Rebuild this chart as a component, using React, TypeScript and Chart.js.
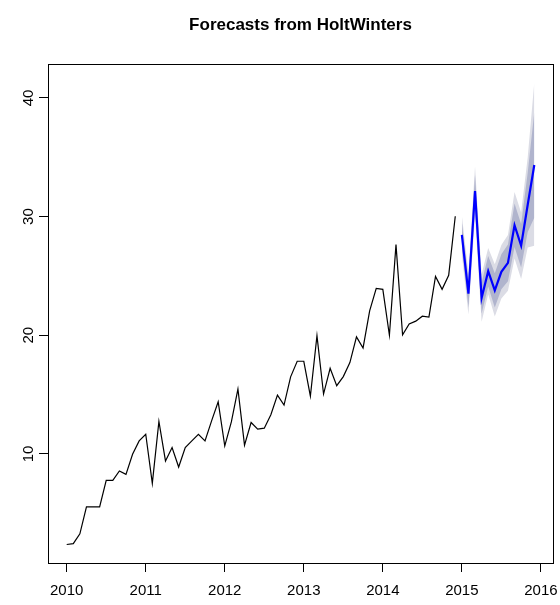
import React, { useEffect, useRef } from "react";
import { Chart, registerables } from "chart.js";

Chart.register(...registerables);

// Monthly series, January 2010 to December 2014
const START_YEAR = 2010;
const MONTHS_PER_YEAR = 12;

const OBSERVED = [
  2.37, 2.45, 3.27, 5.55, 5.55, 5.55, 7.78, 7.78, 8.57, 8.28, 9.97, 11.1,
  11.66, 7.52, 12.74, 9.41, 10.54, 8.9, 10.54, 11.1, 11.66, 11.1, 12.79, 14.4,
  10.68, 12.7, 15.47, 10.74, 12.65, 12.09, 12.17, 13.3, 14.96, 14.12, 16.5, 17.81,
  17.81, 14.87, 19.97, 15.05, 17.22, 15.75, 16.52, 17.7, 19.87, 18.93, 22.06, 23.95,
  23.87, 20.0, 27.64, 20.03, 20.96, 21.19, 21.61, 21.53, 24.96, 23.87, 25.05, 30.03,
];

// HoltWinters forecast for 2015 with 80% and 95% prediction intervals
const FORECAST_MEAN = [28.45, 23.5, 32.15, 23.14, 25.4, 23.78, 25.35, 26.1, 29.27, 27.55, 31.0, 34.35];
const LOWER_80 = [27.37, 22.36, 30.78, 21.83, 24.12, 22.34, 23.88, 24.56, 27.44, 25.72, 28.7, 29.9];
const UPPER_80 = [29.53, 24.64, 33.52, 24.45, 26.68, 25.22, 26.82, 27.64, 31.1, 29.38, 33.7, 38.8];
const LOWER_95 = [26.8, 21.75, 30.05, 21.14, 23.45, 21.58, 23.1, 23.75, 26.47, 24.75, 27.4, 27.55];
const UPPER_95 = [30.1, 25.25, 34.25, 25.14, 27.35, 25.98, 27.6, 28.45, 32.07, 30.35, 35.0, 41.3];

const X_TICKS = [2010, 2011, 2012, 2013, 2014, 2015, 2016];
const Y_TICKS = [10, 20, 30, 40];
const TITLE = "Forecasts from HoltWinters";

const FONT = "'Liberation Sans', Arial, Helvetica, sans-serif";

const toPoints = (values: number[], offset: number) =>
  values.map((y, i) => ({ x: START_YEAR + (offset + i) / MONTHS_PER_YEAR, y }));

// Range padded by 4% like the base graphics default
const paddedRange = (lo: number, hi: number) => {
  const pad = (hi - lo) * 0.04;
  return [lo - pad, hi + pad];
};

const plotFrame = {
  id: "plotFrame",
  afterDatasetsDraw(chart: any) {
    const { ctx, chartArea: a } = chart;
    ctx.save();
    ctx.strokeStyle = "#000";
    ctx.lineWidth = 1;
    ctx.strokeRect(
      Math.round(a.left) + 0.5,
      Math.round(a.top) + 0.5,
      Math.round(a.right - a.left),
      Math.round(a.bottom - a.top)
    );
    ctx.restore();
  },
};

export default function App() {
  const canvasRef = useRef<HTMLCanvasElement | null>(null);

  useEffect(() => {
    const canvas = canvasRef.current;
    if (!canvas) return;

    const n = OBSERVED.length;
    const lastX = START_YEAR + (n + FORECAST_MEAN.length - 1) / MONTHS_PER_YEAR;
    const [xMin, xMax] = paddedRange(START_YEAR, lastX);
    const allY = [...OBSERVED, ...LOWER_95, ...UPPER_95];
    const [yMin, yMax] = paddedRange(Math.min(...allY), Math.max(...allY));

    const band = (values: number[], fill: any, color: string) => ({
      data: toPoints(values, n),
      borderWidth: 0,
      borderColor: "transparent",
      backgroundColor: color,
      pointRadius: 0,
      fill,
    });

    const chart = new Chart(canvas, {
      type: "line",
      data: {
        datasets: [
          {
            label: "Observed",
            data: toPoints(OBSERVED, 0),
            borderColor: "#000",
            borderWidth: 1.2,
            pointRadius: 0,
            fill: false,
          },
          {
            label: "Forecast",
            data: toPoints(FORECAST_MEAN, n),
            borderColor: "#0000ff",
            borderWidth: 2.2,
            pointRadius: 0,
            fill: false,
          },
          { label: "Hi 80", ...band(UPPER_80, "+1", "#b0b4cd") },
          { label: "Lo 80", ...band(LOWER_80, false, "#b0b4cd") },
          { label: "Hi 95", ...band(UPPER_95, "+1", "#dbdce5") },
          { label: "Lo 95", ...band(LOWER_95, false, "#dbdce5") },
        ] as any,
      },
      options: {
        responsive: false,
        animation: false,
        events: [],
        layout: { padding: { top: 0, right: 7, left: 0, bottom: 0 } },
        plugins: {
          legend: { display: false },
          tooltip: { enabled: false },
          title: {
            display: true,
            text: TITLE,
            fullSize: false,
            color: "#000",
            font: { family: FONT, size: 17, weight: "bold", lineHeight: 1.2 },
            padding: { top: 15, bottom: 28.6 },
          },
        },
        elements: { line: { tension: 0 } },
        scales: {
          x: {
            type: "linear",
            min: xMin,
            max: xMax,
            afterBuildTicks: (scale: any) => {
              scale.ticks = X_TICKS.map((value) => ({ value }));
            },
            afterFit: (scale: any) => {
              scale.height = 42;
              scale.paddingLeft = 0;
              scale.paddingRight = 0;
            },
            border: { display: false },
            grid: {
              drawOnChartArea: false,
              drawTicks: true,
              tickLength: 9,
              color: "#000",
              lineWidth: 1,
            },
            ticks: {
              color: "#000",
              font: { family: FONT, size: 15 },
              padding: 10,
              maxRotation: 0,
              minRotation: 0,
              callback: (v: any) => String(v),
            },
          },
          y: {
            type: "linear",
            min: yMin,
            max: yMax,
            afterBuildTicks: (scale: any) => {
              scale.ticks = Y_TICKS.map((value) => ({ value }));
            },
            afterFit: (scale: any) => {
              scale.width = 48;
              scale.paddingTop = 0;
              scale.paddingBottom = 0;
            },
            border: { display: false },
            grid: {
              drawOnChartArea: false,
              drawTicks: true,
              tickLength: 9,
              color: "#000",
              lineWidth: 1,
            },
            ticks: {
              color: "#000",
              font: { family: FONT, size: 15 },
              padding: 2,
              minRotation: 90,
              maxRotation: 90,
              crossAlign: "center",
              callback: (v: any) => String(v),
            },
          },
        },
      } as any,
      plugins: [plotFrame],
    });

    return () => chart.destroy();
  }, []);

  return (
    <div style={{ position: "absolute", left: 0, top: 0, width: 560, height: 605, background: "#fff" }}>
      <canvas ref={canvasRef} width={560} height={605} />
    </div>
  );
}
